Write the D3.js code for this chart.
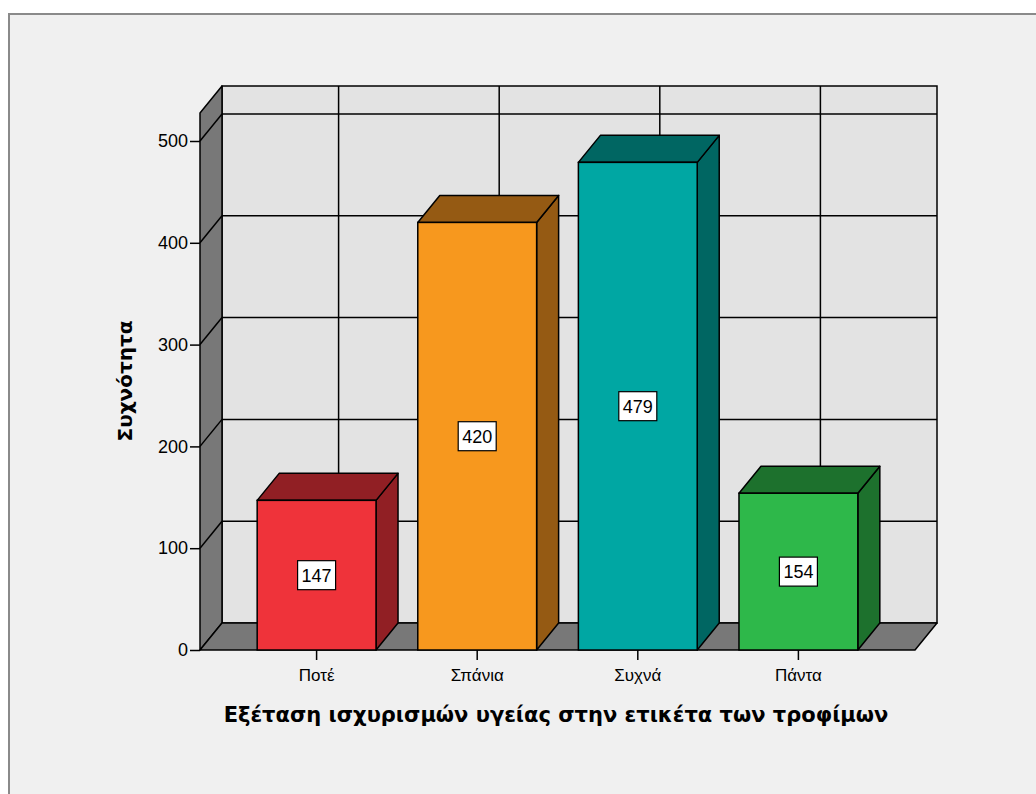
<!DOCTYPE html>
<html>
<head>
<meta charset="utf-8">
<script src="https://cdn.jsdelivr.net/npm/d3@7.9.0/dist/d3.min.js"></script>
<style>
  body { margin: 0; background: #fff; }
  svg { display: block; font-family: 'Liberation Sans', Arial, sans-serif; }
</style>
</head>
<body>
<div id="chart"></div>
<script>
// data
const categories = ['Ποτέ', 'Σπάνια', 'Συχνά', 'Πάντα'];
const counts = [147, 420, 479, 154];
const yTicks = [0, 100, 200, 300, 400, 500];
const frontColors = ['#ef333a', '#f7981e', '#00a7a3', '#2eb84a'];
const darkColors = ['#911f24', '#955a13', '#006662', '#1d712d'];

const yTitle = 'Συχνότητα';
const xTitle = 'Εξέταση ισχυρισμών υγείας στην ετικέτα των τροφίμων';

const width = 1036;
const height = 794;
const depth = { dx: 22, dy: -27 }; // 3D offset of the back wall
const titleFont = "'DejaVu Sans', Verdana, sans-serif";

const svg = d3.select('#chart').append('svg')
    .attr('width', width)
    .attr('height', height);

// outer frame
svg.append('rect')
    .attr('x', 9).attr('y', 14)
    .attr('width', width + 10).attr('height', height)
    .attr('fill', '#f0f0f0')
    .attr('stroke', '#8a8a8a')
    .attr('stroke-width', 2);

const x = d3.scaleBand()
    .domain(categories)
    .range([200, 915])
    .paddingInner(0.26)
    .paddingOuter(0.356);

const y = d3.scaleLinear()
    .domain([0, 527.5])
    .range([650, 113]);

const [x0, x1] = x.range();
const [yb, yt] = y.range();

function poly(g, pts, fill) {
    return g.append('polygon')
        .attr('points', pts.map(p => p.join(',')).join(' '))
        .attr('fill', fill)
        .attr('stroke', '#000')
        .attr('stroke-width', 1.5)
        .attr('stroke-linejoin', 'round');
}

const frame = svg.append('g');

// back wall
frame.append('rect')
    .attr('x', x0 + depth.dx).attr('y', yt + depth.dy)
    .attr('width', x1 - x0).attr('height', yb - yt)
    .attr('fill', '#e3e3e3')
    .attr('stroke', '#000').attr('stroke-width', 1.5);

// gridlines on back wall
frame.selectAll('.hgrid')
    .data(yTicks.filter(d => d > 0))
    .join('line')
    .attr('x1', x0 + depth.dx).attr('x2', x1 + depth.dx)
    .attr('y1', d => y(d) + depth.dy).attr('y2', d => y(d) + depth.dy)
    .attr('stroke', '#000').attr('stroke-width', 1.5);

frame.selectAll('.vgrid')
    .data(categories)
    .join('line')
    .attr('x1', d => x(d) + x.bandwidth() / 2 + depth.dx)
    .attr('x2', d => x(d) + x.bandwidth() / 2 + depth.dx)
    .attr('y1', yt + depth.dy).attr('y2', yb + depth.dy)
    .attr('stroke', '#000').attr('stroke-width', 1.5);

// left wall
poly(frame, [[x0, yb], [x0, yt], [x0 + depth.dx, yt + depth.dy], [x0 + depth.dx, yb + depth.dy]], '#787878');

frame.selectAll('.diag')
    .data(yTicks.filter(d => d > 0))
    .join('line')
    .attr('x1', x0).attr('y1', d => y(d))
    .attr('x2', x0 + depth.dx).attr('y2', d => y(d) + depth.dy)
    .attr('stroke', '#000').attr('stroke-width', 1.5);

// floor
poly(frame, [[x0, yb], [x1, yb], [x1 + depth.dx, yb + depth.dy], [x0 + depth.dx, yb + depth.dy]], '#787878');

// bars
const bars = svg.append('g')
    .selectAll('g')
    .data(categories.map((c, i) => ({ cat: c, value: counts[i], i })))
    .join('g');

bars.each(function (d) {
    const g = d3.select(this);
    const bx0 = x(d.cat);
    const bx1 = bx0 + x.bandwidth();
    const top = y(d.value);
    // side face
    poly(g, [[bx1, yb], [bx1, top], [bx1 + depth.dx, top + depth.dy], [bx1 + depth.dx, yb + depth.dy]], darkColors[d.i]);
    // top face
    poly(g, [[bx0, top], [bx1, top], [bx1 + depth.dx, top + depth.dy], [bx0 + depth.dx, top + depth.dy]], darkColors[d.i]);
    // front face
    g.append('rect')
        .attr('x', bx0).attr('y', top)
        .attr('width', x.bandwidth()).attr('height', yb - top)
        .attr('fill', frontColors[d.i])
        .attr('stroke', '#000').attr('stroke-width', 1.5);

    // value label
    const cx = bx0 + x.bandwidth() / 2;
    const cy = (top + yb) / 2;
    const lbl = g.append('g').attr('transform', `translate(${cx},${cy})`);
    lbl.append('rect')
        .attr('x', -19).attr('y', -14.5)
        .attr('width', 38).attr('height', 29)
        .attr('fill', '#fff')
        .attr('stroke', '#000').attr('stroke-width', 1.2);
    lbl.append('text')
        .attr('text-anchor', 'middle')
        .attr('dy', '0.36em')
        .attr('font-size', 18)
        .attr('fill', '#000')
        .text(d.value);
});

// axes
const yAxis = svg.append('g')
    .attr('transform', `translate(${x0},0)`)
    .call(d3.axisLeft(y).tickValues(yTicks).tickSize(10).tickPadding(2));
yAxis.select('.domain').remove();

const xAxis = svg.append('g')
    .attr('transform', `translate(0,${yb})`)
    .call(d3.axisBottom(x).tickSize(10).tickPadding(9));
xAxis.select('.domain').remove();

svg.selectAll('.tick line').attr('stroke', '#000').attr('stroke-width', 1.5);
yAxis.selectAll('.tick text').attr('font-size', 18).attr('fill', '#000')
    .attr('font-family', "'Liberation Sans', Arial, sans-serif");
xAxis.selectAll('.tick text').attr('font-size', 17).attr('fill', '#000')
    .attr('font-family', "'Liberation Sans', Arial, sans-serif");

// titles
svg.append('text')
    .attr('transform', 'translate(132,381) rotate(-90)')
    .attr('text-anchor', 'middle')
    .attr('font-family', titleFont)
    .attr('font-size', 20)
    .attr('font-weight', 'bold')
    .text(yTitle);

svg.append('text')
    .attr('x', 556).attr('y', 722)
    .attr('text-anchor', 'middle')
    .attr('font-family', titleFont)
    .attr('font-size', 21)
    .attr('font-weight', 'bold')
    .text(xTitle);
</script>
</body>
</html>
